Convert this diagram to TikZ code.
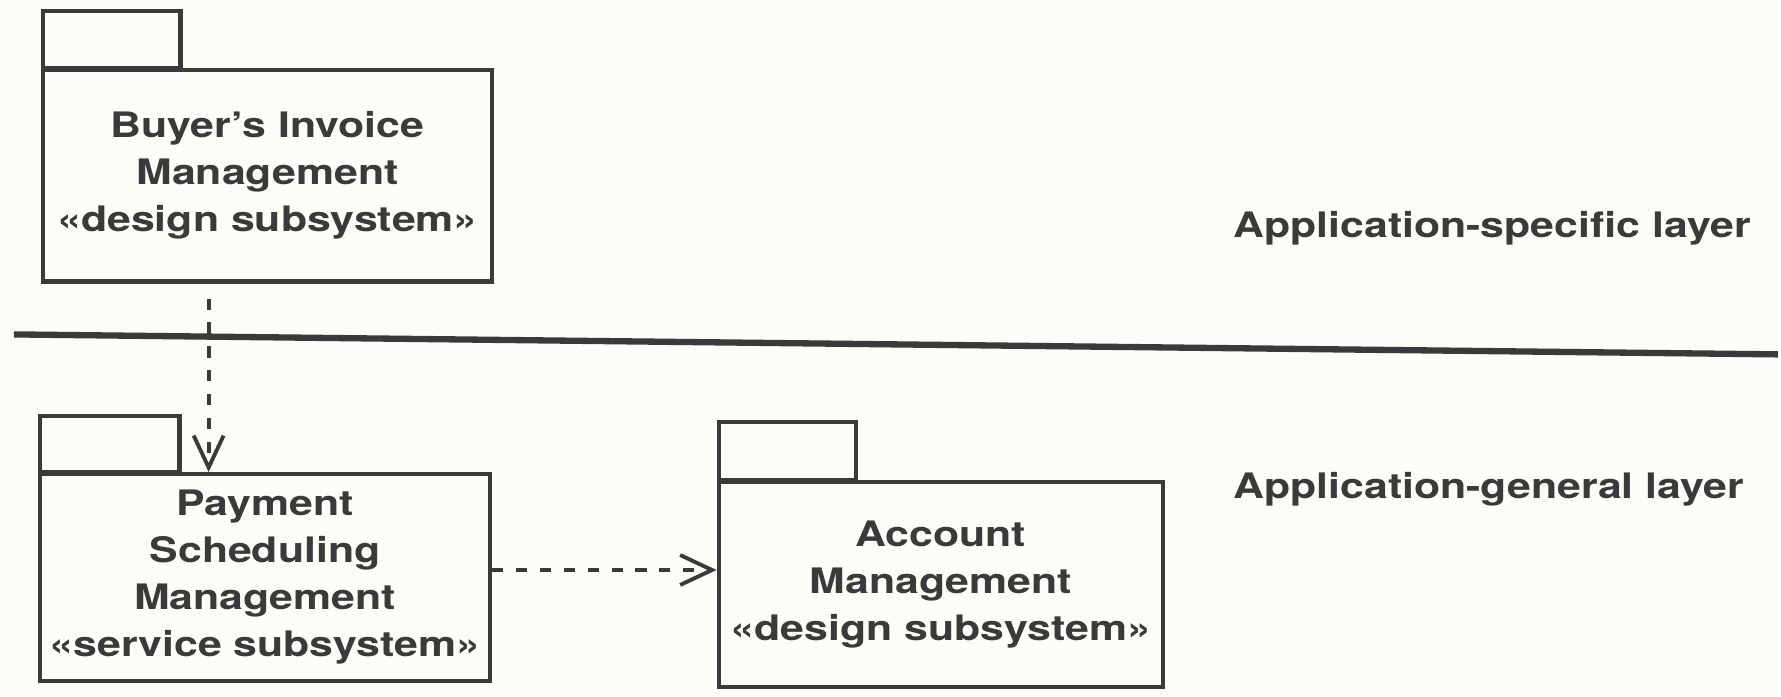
\documentclass[tikz,border=0pt]{standalone}
\usepackage{fontspec}
\setmainfont{TeX Gyre Heros}[FakeStretch=1.22]
\usetikzlibrary{arrows.meta, positioning}
\definecolor{ink}{RGB}{58,58,58}
\definecolor{paper}{RGB}{253,253,247}
\tikzset{
    package/.style={
        draw=ink,
        line width=1.2pt,
        inner sep=0pt,
        align=center,
        text=ink
    },
    pkgtab/.style={draw=ink, line width=1.2pt},
    depends/.style={-{Straight Barb[length=3.2mm, width=3mm]}, draw=ink, line width=1.1pt, dash pattern=on 3.2pt off 3.6pt},
    divider/.style={draw=ink, line width=1.8pt},
    layerlabel/.style={text=ink, anchor=west, inner sep=0pt},
    every node/.style={font=\bfseries\fontsize{10}{13.4}\selectfont}
}

\begin{document}
\begin{tikzpicture}[x=0.1mm, y=-0.1mm]
\fill[paper] (0,0) rectangle (1781,698);

% packages
\node[package, minimum width=45mm, minimum height=21.2mm] (buyer) at (268,176) {Buyer's Invoice\\Management\\«design subsystem»};
\node[package, minimum width=45.1mm, minimum height=20.7mm] (payment) at (265.5,578.5) {Payment\\Scheduling\\Management\\«service subsystem»};
\node[package, minimum width=44.5mm, minimum height=20.5mm] (account) at (942.5,585.5) {Account\\Management\\«design subsystem»};

% tabs
\draw[pkgtab] ([xshift=0.2mm]buyer.north west) rectangle ++(138,-57);
\draw[pkgtab] ([xshift=0.2mm]payment.north west) rectangle ++(140,-56);
\draw[pkgtab] ([xshift=0.2mm]account.north west) rectangle ++(138,-58);

% layers
\node[layerlabel] (specific) at (1235,229) {Application-specific layer};
\node[layerlabel] (general) at (1235,490) {Application-general layer};
\coordinate (divL) at (14,335);
\coordinate (divR) at (1781,355);
\draw[divider] (divL) -- (divR);

% dependencies
\coordinate (dep1) at ([xshift=-5.9mm, yshift=-1.5mm]buyer.south);
\draw[depends] (dep1) -- (dep1 |- payment.north);
\coordinate (dep2) at ([yshift=0.75mm]payment.east);
\draw[depends] (dep2) -- (dep2 -| account.west);
\end{tikzpicture}
\end{document}
